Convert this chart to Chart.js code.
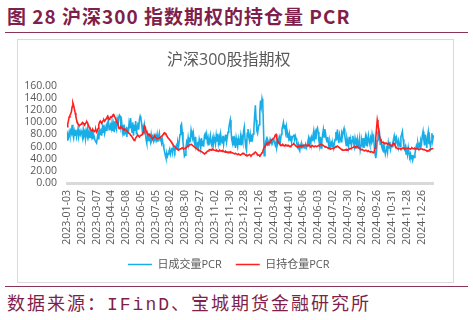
<!DOCTYPE html>
<html>
<head>
<meta charset="utf-8">
<script src="https://cdn.jsdelivr.net/npm/chart.js@4"></script>
<style>
  html, body { margin: 0; padding: 0; background: #fff; }
  body { width: 473px; height: 320px; position: relative; overflow: hidden; font-family: "Noto Sans CJK SC", sans-serif; }
  #heading { position: absolute; left: 7px; top: 6px; font-size: 19px; line-height: 1; font-weight: bold; color: #7f1f4b; letter-spacing: 1px; white-space: nowrap; }
  .rule { position: absolute; left: 5px; width: 463px; height: 1px; background: #8a3258; }
  #frame { position: absolute; left: 17px; top: 39px; width: 437px; height: 244px; box-sizing: border-box; border: 1px solid #d9d9d9; }
  #wrap { position: relative; width: 435px; height: 242px; }
  #source { position: absolute; left: 7px; top: 296px; font-size: 18px; line-height: 1; color: #7f1f4b; letter-spacing: 2px; white-space: nowrap; font-family: "Liberation Mono", "Noto Sans CJK SC", monospace; }
</style>
</head>
<body>
<div id="heading">图 28 沪深300 指数期权的持仓量 PCR</div>
<div class="rule" style="top:32px"></div>
<div id="frame"><div id="wrap"><canvas id="pcr"></canvas></div></div>
<div class="rule" style="top:286px"></div>
<div id="source">数据来源：IFinD、宝城期货金融研究所</div>
<script>
// Tick labels: one every 20 trading days, first one on 2023-01-03
const TICK_LABELS = [
  "2023-01-03", "2023-02-07", "2023-03-07", "2023-04-04", "2023-05-08",
  "2023-06-05", "2023-07-05", "2023-08-02", "2023-08-30", "2023-09-27",
  "2023-11-02", "2023-11-30", "2023-12-28", "2024-01-26", "2024-03-04",
  "2024-04-01", "2024-05-06", "2024-06-03", "2024-07-02", "2024-07-30",
  "2024-08-27", "2024-09-26", "2024-10-31", "2024-11-28", "2024-12-26",
];

// 日成交量PCR (daily volume PCR), one row per 20 trading days
const VOLUME_PCR = [
  71,80,76,84,78,86,82,96,80,74,85,79,88,76,82,90,78,84,80,86,
  82,75,88,79,84,73,86,80,90,77,83,74,85,78,88,72,80,76,70,68,
  66,74,82,72,85,80,90,78,92,84,96,82,88,94,86,98,104,88,92,96,
  90,100,86,96,84,102,92,88,104,96,108,112,110,94,100,86,96,78,90,84,
  88,76,92,82,98,90,107,94,84,100,78,96,86,102,80,94,100,88,104,110,
  106,98,86,92,80,94,84,72,66,78,70,82,74,68,80,72,76,70,78,74,
  78,72,80,68,76,82,70,74,66,72,64,58,52,46,41,50,44,48,52,56,
  48,54,58,50,60,56,52,58,62,56,66,60,70,80,94,97,84,68,56,44,
  46,58,68,64,75,66,72,70,87,80,74,82,70,64,76,62,58,68,60,72,
  66,58,74,62,70,60,78,81,72,80,68,74,62,70,78,66,62,72,64,76,
  70,64,78,68,81,66,74,62,80,72,66,78,64,74,70,80,68,76,84,90,
  98,104,88,72,66,77,62,70,58,74,66,60,72,64,70,78,62,74,68,85,
  92,72,60,54,82,89,76,70,80,68,76,72,81,90,110,128,104,86,82,91,
  96,118,136,126,139,132,90,45,58,68,72,62,70,66,64,72,68,70,66,72,
  70,66,62,68,59,64,72,66,74,70,80,88,94,100,90,96,84,92,76,80,
  74,81,70,78,68,76,77,80,72,78,74,66,60,64,56,53,62,58,64,60,
  62,58,60,64,58,62,68,74,64,72,66,75,70,78,86,74,82,72,88,91,
  84,70,62,76,58,68,80,88,76,89,82,72,68,76,64,58,68,62,66,60,
  64,58,66,72,84,70,88,76,66,80,74,68,82,78,86,90,78,70,62,74,
  68,60,76,64,72,62,70,78,66,60,74,68,64,72,58,66,74,55,62,70,
  64,74,58,68,76,62,72,66,78,70,64,74,68,80,72,76,60,48,41,52,
  70,85,76,82,64,72,60,56,62,50,58,48,54,62,52,66,58,68,56,62,
  60,66,72,78,70,66,74,68,62,70,64,60,76,80,85,72,62,56,60,48,
  52,46,58,50,44,48,40,46,38,44,42,48,56,62,58,66,60,64,58,70,
  66,78,85,72,62,80,70,58,76,84,64,72,60,68,82,70,79,
];

// 日持仓量PCR (daily open-interest PCR)
const OI_PCR = [
  93,97,103,109,112,114,118,126,132,128,122,116,110,104,100,97,95,95,96,97,
  98,100,99,97,96,98,100,101,99,95,92,90,88,87,86,88,86,85,87,88,
  84,86,90,96,100,102,100,99,101,103,104,102,104,106,108,110,107,105,107,109,
  108,110,112,113,111,108,105,103,100,96,92,90,91,93,92,90,89,88,89,88,
  87,86,84,83,82,81,79,78,76,74,72,70,72,74,76,78,79,77,76,78,
  78,79,80,84,90,94,92,86,83,82,80,79,80,78,76,74,73,75,76,77,
  75,74,73,73,74,74,75,76,77,78,80,82,83,82,80,78,76,74,73,71,
  70,68,66,64,62,61,60,58,57,56,55,54,55,56,56,57,58,57,56,57,
  57,58,59,60,61,62,63,63,64,63,62,61,60,59,58,57,56,55,55,54,
  53,52,52,51,50,49,48,49,50,51,52,53,54,55,55,54,55,56,55,54,
  54,54,53,54,53,52,53,54,53,53,52,53,52,52,51,52,51,51,50,51,
  51,50,51,50,50,49,49,48,49,48,48,47,48,47,47,46,47,48,49,49,
  48,47,46,46,45,45,46,47,46,45,46,47,48,49,50,51,50,48,47,46,
  46,45,46,48,50,52,56,59,61,63,64,66,65,66,67,68,70,71,72,73,
  74,76,79,80,74,70,68,66,64,63,62,63,64,62,61,62,63,62,61,62,
  62,61,60,61,62,63,64,65,64,62,61,60,59,60,61,60,61,62,61,62,
  61,62,62,63,62,61,62,63,62,61,60,61,62,61,60,60,61,61,60,61,
  61,62,63,63,64,63,62,62,61,60,60,59,59,58,58,57,57,56,57,57,
  57,57,58,59,60,60,61,60,59,58,57,56,55,55,54,54,54,55,54,55,
  54,55,56,57,57,57,58,58,59,60,60,59,60,60,59,58,57,56,55,55,
  55,54,54,53,54,54,53,52,53,52,52,51,52,51,51,50,52,58,74,90,
  104,97,86,78,73,70,68,67,67,66,66,65,66,65,64,65,64,63,62,61,
  62,64,66,65,62,60,58,57,57,56,57,57,56,57,57,58,57,57,56,57,
  57,57,58,57,57,56,57,58,57,57,56,57,56,56,57,56,55,55,56,56,
  56,56,55,55,55,54,54,53,53,53,54,55,55,56,56,57,57,
];

const LABEL_STEP = 20;
const GREY = "#595959";
const BLUE = "#17aee8";
const RED = "#ff1f1f";

Chart.defaults.font.family = "'Open Sans', 'Noto Sans CJK SC', sans-serif";
Chart.defaults.color = GREY;

// one category per trading day, only every 20th gets a visible date
const categories = VOLUME_PCR.map((_, i) =>
  i % LABEL_STEP === 0 ? (TICK_LABELS[i / LABEL_STEP] || "") : "");

new Chart(document.getElementById("pcr"), {
  type: "line",
  data: {
    labels: categories,
    datasets: [
      {
        label: "日成交量PCR",
        data: VOLUME_PCR,
        borderColor: BLUE,
        backgroundColor: BLUE,
        borderWidth: 1.6,
        pointRadius: 0,
        tension: 0,
        order: 1,
      },
      {
        label: "日持仓量PCR",
        data: OI_PCR,
        borderColor: RED,
        backgroundColor: RED,
        borderWidth: 1.6,
        pointRadius: 0,
        tension: 0,
        order: 0,
      },
    ],
  },
  options: {
    responsive: true,
    maintainAspectRatio: false,
    animation: false,
    layout: { padding: { left: 0, right: 13.5, top: 0, bottom: 2 } },
    plugins: {
      title: {
        display: true,
        text: "沪深300股指期权",
        color: GREY,
        font: { size: 16, weight: "normal" },
        padding: { top: 10.4, bottom: 16.4 },
      },
      legend: {
        position: "bottom",
        labels: {
          usePointStyle: true,
          pointStyle: "line",
          pointStyleWidth: 24,
          boxHeight: 10,
          padding: 14,
          color: GREY,
          font: { size: 11 },
          sort: (a, b) => a.datasetIndex - b.datasetIndex,
        },
      },
      tooltip: { enabled: false },
    },
    scales: {
      x: {
        ticks: {
          autoSkip: false,
          minRotation: 90,
          maxRotation: 90,
          padding: 7,
          color: GREY,
          font: { size: 10.5 },
        },
        grid: { display: false, drawTicks: false },
        border: { color: "#d9d9d9", width: 3 },
        afterFit: (s) => { s.height = 62; },
      },
      y: {
        min: 0,
        max: 160,
        ticks: {
          stepSize: 20,
          autoSkip: false,
          padding: 10,
          color: GREY,
          font: { size: 10.5 },
          callback: (v) => v.toFixed(2),
        },
        grid: { display: false, drawTicks: false },
        border: { display: false },
        afterFit: (s) => { s.width = 49; },
      },
    },
  },
});
</script>
</body>
</html>
